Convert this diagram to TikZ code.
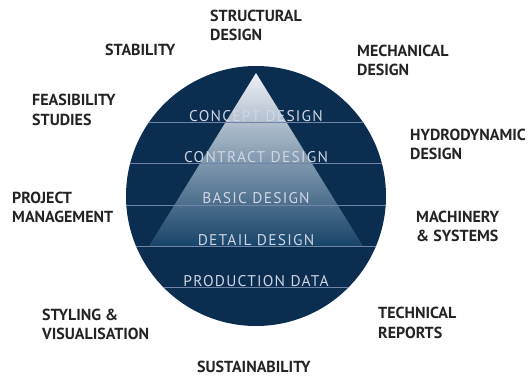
\documentclass[tikz,border=0pt]{standalone}
\usepackage{fontspec}
\setmainfont{PT Sans}
\newfontfamily\outerfont{PT Sans}
\newfontfamily\innerfont[LetterSpace=8]{PT Sans}
\definecolor{navy1}{RGB}{10, 45, 80}
\definecolor{tritop}{RGB}{238, 240, 246}
\definecolor{tribottom}{RGB}{24, 68, 106}
\definecolor{stripe1}{RGB}{112, 132, 168}
\definecolor{inner1}{RGB}{208, 213, 228}
\definecolor{label1}{RGB}{35, 35, 35}
\begin{document}
\begin{tikzpicture}[x=1pt, y=-1pt,
  outer/.style={anchor=base west, align=left, inner sep=0pt, text=label1,
    font=\outerfont\bfseries\fontsize{16}{19.3}\selectfont},
  inner/.style={anchor=base, inner sep=0pt, text=inner1,
    font=\innerfont\fontsize{15.5}{18}\selectfont}]
  \useasboundingbox (0,0) rectangle (531,376);
  \coordinate (c) at (256,196);
  \coordinate (apex) at (256,73);
  \coordinate (bl) at (149,246);
  \coordinate (br) at (363,246);

  % disc and pyramid
  \fill[navy1] (c) circle (130);
  \shade[top color=tritop, bottom color=tribottom] (apex) -- (br) -- (bl) -- cycle;
  \begin{scope}
    \clip (c) circle (130);
    \foreach \y in {122.3,163.6,205,246.3,287.7}
      \draw[stripe1, line width=1pt] (100,\y) -- (420,\y);
  \end{scope}

  % design stages
  \foreach \name/\txt [count=\i] in {concept/CONCEPT DESIGN, contract/CONTRACT DESIGN,
      basic/BASIC DESIGN, detail/DETAIL DESIGN, production/PRODUCTION DATA}
    \node[inner] (\name) at (256,{121+41.35*(\i-1)}) {\txt};

  % disciplines round the disc (base = last line)
  \node[outer] (structural) at (210,40.7) {STRUCTURAL\\DESIGN};
  \node[outer] (stability) at (105,55) {STABILITY};
  \node[outer] (mechanical) at (357,75.5) {MECHANICAL\\DESIGN};
  \node[outer] (feasibility) at (32,125) {FEASIBILITY\\STUDIES};
  \node[outer] (hydro) at (410,159.5) {HYDRODYNAMIC\\DESIGN};
  \node[outer] (project) at (12,222.7) {PROJECT\\MANAGEMENT};
  \node[outer] (machinery) at (416,241.5) {MACHINERY\\\& SYSTEMS};
  \node[outer] (styling) at (42,339.3) {STYLING \&\\VISUALISATION};
  \node[outer] (technical) at (378,338) {TECHNICAL\\REPORTS};
  \node[outer] (sustain) at (197,372.7) {SUSTAINABILITY};
\end{tikzpicture}
\end{document}
